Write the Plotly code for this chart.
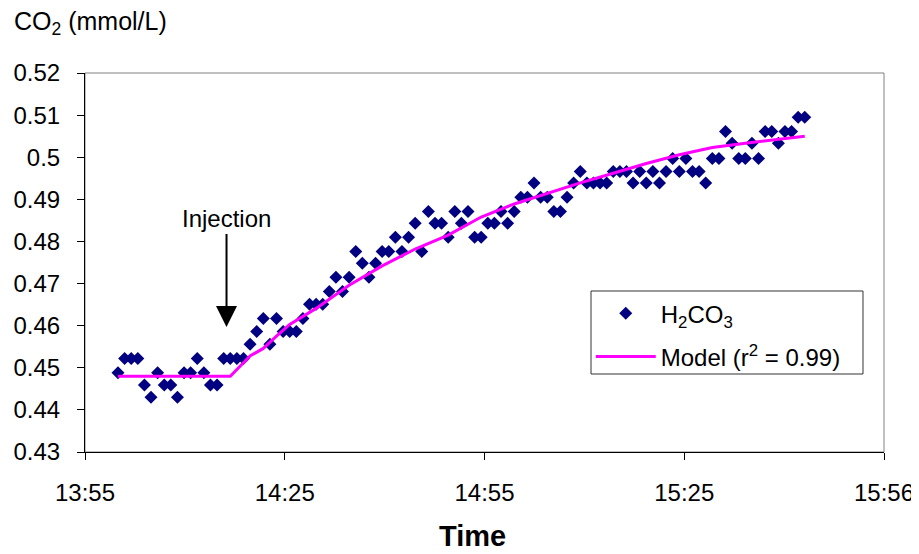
import plotly.graph_objects as go

DAY = "2000-01-01 "

# Sample times (clock time, 1-min sampling)
times = [
    "14:00", "14:01", "14:02", "14:03", "14:04", "14:05", "14:06", "14:07", "14:08", "14:09",
    "14:10", "14:11", "14:12", "14:13", "14:14", "14:15", "14:16", "14:17", "14:18", "14:19",
    "14:20", "14:21", "14:22", "14:23", "14:24", "14:25", "14:26", "14:27", "14:28", "14:29",
    "14:30", "14:31", "14:32", "14:33", "14:34", "14:35", "14:36", "14:37", "14:38", "14:39",
    "14:40", "14:41", "14:42", "14:43", "14:44", "14:45", "14:46", "14:47", "14:48", "14:49",
    "14:50", "14:51", "14:52", "14:53", "14:54", "14:55", "14:56", "14:57", "14:58", "14:59",
    "15:00", "15:01", "15:02", "15:03", "15:04", "15:05", "15:06", "15:07", "15:08", "15:09",
    "15:10", "15:11", "15:12", "15:13", "15:14", "15:15", "15:16", "15:17", "15:18", "15:19",
    "15:20", "15:21", "15:22", "15:23", "15:24", "15:25", "15:26", "15:27", "15:28", "15:29",
    "15:30", "15:31", "15:32", "15:33", "15:34", "15:35", "15:36", "15:37", "15:38", "15:39",
    "15:40", "15:41", "15:42", "15:43", "15:44",
]

# Measured H2CO3 (mmol/L)
h2co3 = [
    0.4488, 0.4522, 0.4522, 0.4522, 0.4459, 0.4430, 0.4488, 0.4459, 0.4459, 0.4430,
    0.4488, 0.4488, 0.4522, 0.4488, 0.4459, 0.4459, 0.4522, 0.4522, 0.4522, 0.4522,
    0.4556, 0.4586, 0.4617, 0.4556, 0.4617, 0.4586, 0.4586, 0.4586, 0.4617, 0.4651,
    0.4651, 0.4651, 0.4681, 0.4715, 0.4681, 0.4715, 0.4776, 0.4748, 0.4715, 0.4748,
    0.4776, 0.4776, 0.4810, 0.4776, 0.4810, 0.4843, 0.4776, 0.4871, 0.4843, 0.4843,
    0.4810, 0.4871, 0.4843, 0.4871, 0.4810, 0.4810, 0.4843, 0.4843, 0.4871, 0.4843,
    0.4871, 0.4905, 0.4905, 0.4939, 0.4905, 0.4905, 0.4871, 0.4871, 0.4905, 0.4939,
    0.4966, 0.4939, 0.4939, 0.4939, 0.4939, 0.4966, 0.4966, 0.4966, 0.4939, 0.4966,
    0.4939, 0.4966, 0.4939, 0.4966, 0.4997, 0.4966, 0.4997, 0.4966, 0.4966, 0.4939,
    0.4997, 0.4997, 0.5061, 0.5033, 0.4997, 0.4997, 0.5033, 0.4997, 0.5061, 0.5061,
    0.5033, 0.5061, 0.5061, 0.5095, 0.5095,
]

# Model curve
model_times = ["14:00", "14:17", "14:20", "14:22", "14:24", "14:26", "14:30", "14:35",
               "14:40", "14:45", "14:50", "14:55", "15:00", "15:05", "15:10", "15:15",
               "15:20", "15:25", "15:30", "15:35", "15:40", "15:44"]
model_vals = [0.4480, 0.4480, 0.4528, 0.4546, 0.4575, 0.4603, 0.4641, 0.4696,
              0.4742, 0.4782, 0.4815, 0.4858, 0.4889, 0.4914, 0.4939, 0.4962,
              0.4985, 0.5006, 0.5023, 0.5033, 0.5043, 0.5050]

y_ticks = [0.43, 0.44, 0.45, 0.46, 0.47, 0.48, 0.49, 0.50, 0.51, 0.52]
y_tick_labels = ["0.43", "0.44", "0.45", "0.46", "0.47", "0.48", "0.49", "0.5", "0.51", "0.52"]
x_tick_times = ["13:55:00", "14:25:15", "14:55:30", "15:25:45", "15:56:00"]
x_tick_labels = ["13:55", "14:25", "14:55", "15:25", "15:56"]
x_range = ["13:55:00", "15:56:00"]

injection_time = "14:16:26"
injection_level = 0.4597

FONT = "Liberation Sans, Arial, sans-serif"

fig = go.Figure()
fig.add_trace(go.Scatter(
    x=[DAY + t for t in times], y=h2co3, mode="markers",
    name="H<sub>2</sub>CO<sub>3</sub>", legendgroup="a",
    marker=dict(symbol="diamond", size=10, color="#000080", line=dict(width=0)),
))
fig.add_trace(go.Scatter(
    x=[DAY + t for t in model_times], y=model_vals, mode="lines",
    name="Model (r<sup>2</sup> = 0.99)", legendgroup="b",
    line=dict(color="#FF00FF", width=3),
))

axis_common = dict(
    automargin=False,
    showgrid=False, zeroline=False, showline=True, linecolor="black", linewidth=1,
    ticks="outside", ticklen=7, tickcolor="black", tickwidth=1,
    tickfont=dict(family=FONT, size=24, color="black"),
)

# The page has an 8px body margin, so the figure is sized to fit the window.
fig.update_layout(
    width=911, height=546,
    margin=dict(l=77, r=35, t=65, b=102),
    paper_bgcolor="white", plot_bgcolor="white",
    font=dict(family=FONT, size=24, color="black"),
    xaxis=dict(type="date", range=[DAY + t for t in x_range],
               tickvals=[DAY + t for t in x_tick_times], ticktext=x_tick_labels,
               ticklabelstandoff=12, **axis_common),
    yaxis=dict(range=[0.43, 0.52], tickvals=y_ticks, ticktext=y_tick_labels,
               ticklabelstandoff=12, **axis_common),
    legend=dict(x=0.633, y=0.4245, xanchor="left", yanchor="top",
                borderwidth=0, bgcolor="rgba(0,0,0,0)",
                font=dict(family=FONT, size=24, color="black"), itemwidth=60,
                tracegroupgap=9),
    shapes=[
        dict(type="rect", xref="paper", yref="paper", x0=0, x1=1, y0=0, y1=1,
             line=dict(color="#808080", width=1), layer="below"),
        dict(type="rect", xref="paper", yref="paper", x0=0.6333, x1=0.9737,
             y0=0.2058, y1=0.4248, line=dict(color="#333333", width=1),
             fillcolor="white", layer="above"),
    ],
    annotations=[
        dict(x=DAY + injection_time, y=injection_level, xref="x", yref="y",
             text="Injection", showarrow=True, ax=0, ay=-108,
             arrowhead=2, arrowsize=2.1, arrowwidth=2, arrowcolor="black",
             font=dict(family=FONT, size=24, color="black")),
        dict(x=-0.0914, y=1.132, xref="paper", yref="paper", xanchor="left", yanchor="middle",
             text="CO<sub>2</sub> (mmol/L)", showarrow=False,
             font=dict(family=FONT, size=25, color="black")),
        dict(x=0.4856, y=-0.2216, xref="paper", yref="paper", xanchor="center", yanchor="middle",
             text="<b>Time</b>", showarrow=False,
             font=dict(family=FONT, size=29, color="black")),
    ],
)

fig.write_html("out.html")
